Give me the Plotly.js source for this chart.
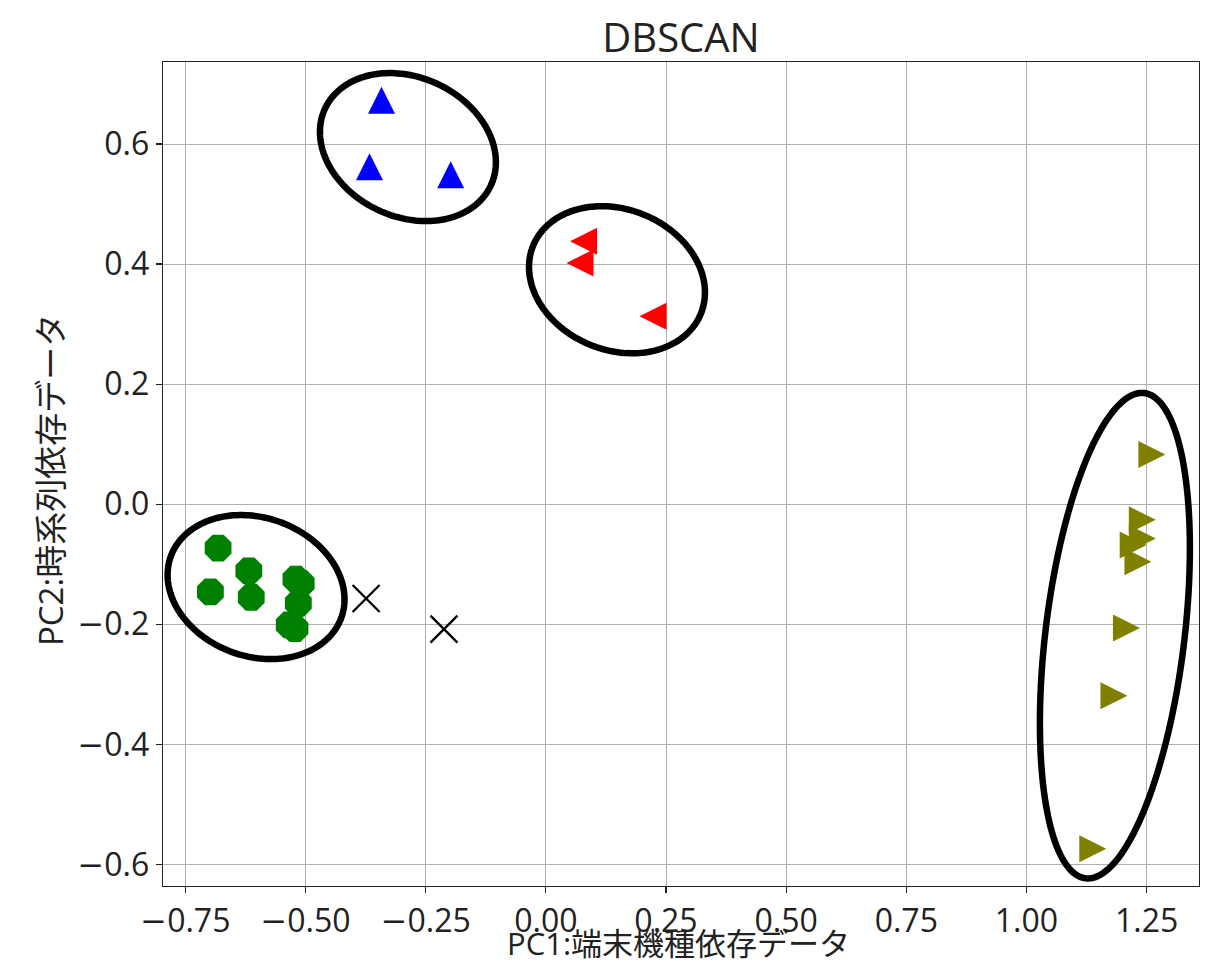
<!DOCTYPE html>
<html><head><meta charset="utf-8">
<script src="https://cdn.plot.ly/plotly-3.0.1.min.js"></script>
<style>body{margin:0;background:#fff}</style>
</head><body><div id="chart" style="width:1229px;height:967px"></div>
<script>
// Cluster data (PC1, PC2)
const greenX = [-0.682, -0.618, -0.698, -0.613, -0.520, -0.509, -0.515, -0.534, -0.522];
const greenY = [-0.073, -0.111, -0.146, -0.155, -0.125, -0.132, -0.165, -0.201, -0.207];
const blueX = [-0.342, -0.367, -0.198];
const blueY = [0.673, 0.562, 0.549];
const redX = [0.0785, 0.071, 0.223];
const redY = [0.438, 0.402, 0.313];
const oliveX = [1.261, 1.241, 1.241, 1.222, 1.232, 1.208, 1.182, 1.138];
const oliveY = [0.083, -0.026, -0.057, -0.068, -0.096, -0.206, -0.319, -0.574];
const noiseX = [-0.374, -0.212];
const noiseY = [-0.157, -0.208];

const MINUS = '<span style="font-family:\'DejaVu Sans\'">\u2212</span>';
const xTickVals = [-0.75, -0.5, -0.25, 0, 0.25, 0.5, 0.75, 1.0, 1.25];
const xTickText = [MINUS + '0.75', MINUS + '0.50', MINUS + '0.25', '0.00', '0.25', '0.50', '0.75', '1.00', '1.25'];
const yTickVals = [-0.6, -0.4, -0.2, 0, 0.2, 0.4, 0.6];
const yTickText = [MINUS + '0.6', MINUS + '0.4', MINUS + '0.2', '0.0', '0.2', '0.4', '0.6'];
const titleText = 'DBSCAN';
const xLabel = 'PC1:端末機種依存データ';
const yLabel = 'PC2:時系列依存データ';

// Cluster outline ellipses: centre in data units, semi-axes in px, angle in screen degrees
const ellCx = [-0.603, -0.287, 0.148, 1.184];
const ellCy = [-0.138, 0.595, 0.374, -0.219];
const ellA = [90.6, 91.4, 90.5, 244.4];
const ellB = [69.3, 69.7, 70.4, 69.5];
const ellAng = [19.6, 24.8, 21.9, -83.1];

const W = 1229, H = 967;
const M = {l: 163, r: 30, t: 62, b: 81};
const xRange = [-0.7966, 1.359];
const yRange = [-0.636, 0.7367];
const kx = (W - M.l - M.r) / (xRange[1] - xRange[0]);
const ky = (H - M.t - M.b) / (yRange[1] - yRange[0]);

const shapes = ellCx.map((cx, i) => {
  const th = ellAng[i] * Math.PI / 180;
  let p = '';
  for (let k = 0; k <= 180; k++) {
    const t = k / 180 * 2 * Math.PI;
    const px = ellA[i] * Math.cos(t) * Math.cos(th) - ellB[i] * Math.sin(t) * Math.sin(th);
    const py = ellA[i] * Math.cos(t) * Math.sin(th) + ellB[i] * Math.sin(t) * Math.cos(th);
    p += (k === 0 ? 'M' : 'L') + (cx + px / kx).toFixed(5) + ',' + (ellCy[i] - py / ky).toFixed(5);
  }
  p += 'Z';
  return {type: 'path', path: p, xref: 'x', yref: 'y', line: {color: 'black', width: 6.5}, layer: 'above'};
});

const FONT = '"Open Sans", "Noto Sans CJK JP", sans-serif';
const TS = 27;

// arrow-down + standoff of half its size gives a centred triangle; angle turns it
const traces = [
  {x: greenX, y: greenY, mode: 'markers', type: 'scatter',
   marker: {symbol: 'octagon', size: 29, color: '#008000', line: {width: 0}}},
  {x: blueX, y: blueY, mode: 'markers', type: 'scatter',
   marker: {symbol: 'arrow-down', angle: 180, size: TS, standoff: TS / 2, color: '#0000ff', line: {width: 0}}},
  {x: redX, y: redY, mode: 'markers', type: 'scatter',
   marker: {symbol: 'arrow-down', angle: 90, size: TS, standoff: TS / 2, color: '#ff0000', line: {width: 0}}},
  {x: oliveX, y: oliveY, mode: 'markers', type: 'scatter',
   marker: {symbol: 'arrow-down', angle: -90, size: TS, standoff: TS / 2, color: '#808000', line: {width: 0}}},
  {x: noiseX, y: noiseY, mode: 'markers', type: 'scatter',
   marker: {symbol: 'x-thin-open', size: 27, color: 'black', line: {width: 2.3, color: 'black'}}}
];

const axisCommon = {
  showline: true, mirror: true, linecolor: '#222', linewidth: 1.3,
  showgrid: true, gridcolor: '#b0b0b0', gridwidth: 1,
  zeroline: false, ticks: 'outside', ticklen: 6, tickwidth: 1.3, tickcolor: '#222',
  tickfont: {family: FONT, size: 32, color: '#222'}
};

const layout = {
  width: W, height: H,
  margin: M,
  paper_bgcolor: '#fff', plot_bgcolor: '#fff',
  showlegend: false,
  font: {family: FONT, color: '#222'},
  title: {text: titleText, font: {family: FONT, size: 40, color: '#222'},
          x: 0.5 , xref: 'paper', y: 1 - 38 / H, yref: 'container', yanchor: 'middle'},
  xaxis: Object.assign({}, axisCommon, {
    range: xRange, tickmode: 'array', tickvals: xTickVals, ticktext: xTickText
  }),
  yaxis: Object.assign({}, axisCommon, {
    range: yRange, tickmode: 'array', tickvals: yTickVals, ticktext: yTickText
  }),
  annotations: [
    {text: xLabel, xref: 'paper', yref: 'paper', x: 0.498, y: 0, yshift: -57,
     xanchor: 'center', yanchor: 'middle', showarrow: false,
     font: {family: FONT, size: 31, color: '#222'}},
    {text: yLabel, xref: 'paper', yref: 'paper', x: 0, xshift: -113, y: 0.4927,
     xanchor: 'center', yanchor: 'middle', textangle: -90, showarrow: false,
     font: {family: FONT, size: 33, color: '#222'}}
  ],
  shapes: shapes
};

Plotly.newPlot('chart', traces, layout, {displayModeBar: false, staticPlot: true});
</script>
</body></html>
